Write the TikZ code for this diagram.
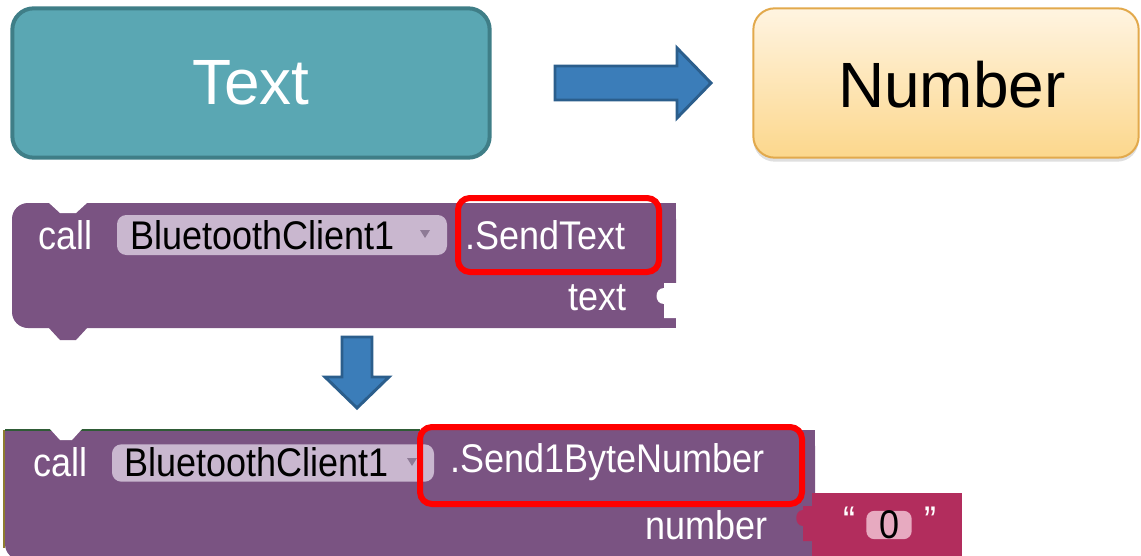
\documentclass[tikz,border=0pt]{standalone}
\usepackage{fontspec}
\setmainfont{Liberation Sans}
\newfontfamily\blockfamily[FakeStretch=0.9]{Liberation Sans}
\usepackage{xcolor}
\usepackage{tikz}
\usetikzlibrary{shadows}

\definecolor{tealfill}{HTML}{5AA7B3}
\definecolor{tealline}{HTML}{3F7E87}
\definecolor{numtop}{HTML}{FFF4E1}
\definecolor{numbot}{HTML}{FCD78C}
\definecolor{numline}{HTML}{E2A94C}
\definecolor{arrowfill}{HTML}{3B7DB9}
\definecolor{arrowline}{HTML}{2B5E8C}
\definecolor{blockpurple}{HTML}{7A5382}
\definecolor{pillpurple}{HTML}{C9B7CF}
\definecolor{droparrow}{HTML}{8E7B96}
\definecolor{textblock}{HTML}{B22D5D}
\definecolor{pillpink}{HTML}{E7AAC0}
\definecolor{oliveedge}{HTML}{8E7C30}
\definecolor{greenedge}{HTML}{2F5C36}

\begin{document}
\begin{tikzpicture}[x=0.75pt,y=-0.75pt,
	typebox/.style={rounded corners=16pt, inner sep=0pt, font=\fontsize{48}{50}\selectfont},
	blocktext/.style={inner sep=0pt, anchor=west, text=white, font=\blockfamily\fontsize{30}{32}\selectfont},
	pill/.style={fill=pillpurple, rounded corners=7pt, inner sep=0pt},
	hilite/.style={draw=red, line width=4.5pt, rounded corners=9pt},
	fatarrow/.style={fill=arrowfill, draw=arrowline, line width=2.2pt, line join=miter}]
	\useasboundingbox (0,0) rectangle (1141,556);

	% the two data types
	\node[typebox, fill=tealfill, draw=tealline, line width=3pt, text=white,
		minimum width=358pt, minimum height=112pt] (txt) at (251,83) {Text};
	\node[typebox, top color=numtop, bottom color=numbot, draw=numline, line width=1.5pt,
		drop shadow={shadow xshift=0pt, shadow yshift=-3pt, opacity=0.25},
		minimum width=289pt, minimum height=112pt] (num) at (946,83) {};
	\node[inner sep=0pt, font=\fontsize{48}{50}\selectfont] (numlabel) at (952,85) {Number};
	\draw[fatarrow] (555,66) -- (677,66) -- (677,48) -- (711,83) -- (677,118) -- (677,100) -- (555,100) -- cycle;

	% first block: SendText
	\fill[blockpurple, rounded corners=12pt] (12,203) rectangle (676,328);
	\fill[blockpurple] (200,203) rectangle (676,328);
	\fill[white] (48,202) -- (60,213) -- (76,213) -- (88,202) -- cycle;
	\fill[blockpurple] (48,327) -- (60,340) -- (76,340) -- (88,327) -- cycle;
	\fill[white] (677,283) -- (664,283) -- (664,288) .. controls (654,288) and (654,304) .. (664,304) -- (664,318) -- (677,318) -- cycle;

	\node[blocktext] (call1) at (38,235) {call};
	\node[pill, minimum width=247.5pt, minimum height=30pt] (pill1) at (282,235) {};
	\node[blocktext, text=black] (dev1) at (130,235) {BluetoothClient1};
	\fill[droparrow] (420,230) -- (430,230) -- (425,238) -- cycle;
	\draw[hilite] (458,198) rectangle (659,272);
	\node[blocktext] (meth1) at (465,235) {.SendText};
	\node[blocktext] (arg1) at (568,298) {text};

	\draw[fatarrow] (342,337) -- (372,337) -- (372,377) -- (389,377) -- (357,408) -- (325,377) -- (342,377) -- cycle;

	% second block: Send1ByteNumber
	\fill[blockpurple, rounded corners=12pt] (5,430) rectangle (815,560);
	\fill[blockpurple] (5,430) rectangle (815,500);
	\fill[blockpurple] (100,430) rectangle (815,570);
	\draw[oliveedge, line width=1.5pt] (4,430) -- (4,548);
	\draw[greenedge, line width=1.2pt] (5,430) -- (420,430);
	\fill[white] (50,429) -- (60,440) -- (72,440) -- (82,429) -- cycle;

	\node[blocktext] (call2) at (33,462) {call};
	\node[pill, minimum width=241.5pt, minimum height=28pt] (pill2) at (273,463) {};
	\node[blocktext, text=black] (dev2) at (124,462) {BluetoothClient1};
	\fill[droparrow] (407,458) -- (417,458) -- (412,466) -- cycle;
	\draw[hilite] (420,427) rectangle (802,504);
	\node[blocktext] (meth2) at (450,462) {.Send1ByteNumber};
	\node[blocktext] (arg2) at (645,525) {number};

	% text block plugged into the socket
	\fill[textblock] (812,493) rectangle (962,570);
	\fill[textblock] (813,506) -- (803,506) -- (803,510) .. controls (794,510) and (794,526) .. (803,526) -- (803,541) -- (813,541) -- cycle;
	\node[blocktext] (lq) at (843,521) {“};
	\node[pill, fill=pillpink, rounded corners=6pt, minimum width=34pt, minimum height=21pt,
		font=\blockfamily\fontsize{30}{32}\selectfont] (zero) at (889,525) {0};
	\node[blocktext] (rq) at (924,521) {”};
\end{tikzpicture}
\end{document}
